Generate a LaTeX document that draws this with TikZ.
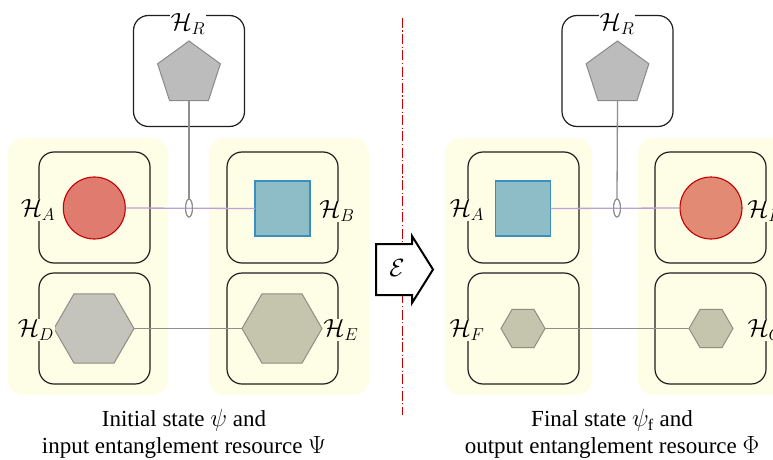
\documentclass[tikz,border=0pt]{standalone}
\usepackage{fontspec}
\setmainfont{Liberation Serif}
\usetikzlibrary{shapes.geometric}
\definecolor{bgy}{HTML}{FEFEE6}
\definecolor{circfillL}{HTML}{E07B70}
\definecolor{circfillR}{HTML}{E28A73}
\definecolor{circdraw}{HTML}{C00000}
\definecolor{sqfill}{HTML}{8EBDC8}
\definecolor{sqdraw}{HTML}{3A8FC0}
\definecolor{pentfill}{HTML}{BCBCBC}
\definecolor{pentdraw}{HTML}{8A8A8A}
\definecolor{hexgrey}{HTML}{C4C4BC}
\definecolor{hexolive}{HTML}{C5C5AE}
\definecolor{hexdraw}{HTML}{8E8E84}
\definecolor{gline}{HTML}{8F8F8F}
\definecolor{pline}{HTML}{B9A2D8}
\definecolor{sepred}{HTML}{C00000}
\tikzset{
  bgbox/.style={fill=bgy, rounded corners=16pt},
  hbox/.style={draw=black!88, line width=1.2pt, rounded corners=15pt, minimum width=111pt, minimum height=111pt, inner sep=0pt, outer sep=0pt},
  hlab/.style={fill=bgy, inner sep=0.5pt, font=\fontsize{23}{23}\selectfont},
  circL/.style={circle, fill=circfillL, draw=circdraw, line width=1.1pt, minimum size=62pt, inner sep=0pt, outer sep=0pt},
  circR/.style={circL, fill=circfillR},
  sqnode/.style={rectangle, fill=sqfill, draw=sqdraw, line width=1.1pt, minimum size=55pt, inner sep=0pt, outer sep=0pt},
  pent/.style={regular polygon, regular polygon sides=5, fill=pentfill, draw=pentdraw, line width=1pt, minimum size=66pt, inner sep=0pt, outer sep=0pt},
  hexbig/.style={regular polygon, regular polygon sides=6, draw=hexdraw, line width=1pt, minimum size=80pt, inner sep=0pt, outer sep=0pt},
  hexsmall/.style={regular polygon, regular polygon sides=6, fill=hexolive, draw=hexdraw, line width=1pt, minimum size=44pt, inner sep=0pt, outer sep=0pt},
  ring/.style={ellipse, draw=gline, line width=1pt, minimum width=7pt, minimum height=18pt, inner sep=0pt, outer sep=0pt},
  gconn/.style={draw=gline, line width=1.3pt},
  pconn/.style={draw=pline, line width=1.3pt},
  captext/.style={align=center, font=\fontsize{23}{27}\selectfont, inner sep=0pt}
}
\begin{document}
\begin{tikzpicture}[x=1pt,y=-1pt]
\useasboundingbox (0,0) rectangle (773,460);
\clip (0,0) rectangle (773,460);
\fill[white] (0,0) rectangle (773,460);
% background panels
\fill[bgbox] (8,138) rectangle (168,395);
\fill[bgbox] (209,138) rectangle (369,395);
\fill[bgbox] (445,138) rectangle (592,395);
\fill[bgbox] (638,138) rectangle (800,395);
% separator
\draw[sepred, line width=1pt, dash pattern=on 10pt off 2.5pt on 1.2pt off 2.5pt] (402,18) -- (402,415);
% ---------- left: initial state ----------
\node[hbox] (bR) at (189,71) {};
\node[hbox] (bA) at (94.5,207.5) {};
\node[hbox] (bB) at (282.5,207.5) {};
\node[hbox] (bD) at (94.5,328.5) {};
\node[hbox] (bE) at (282.5,328.5) {};
\node[pent] (pR) at (189,74) {};
\node[circL] (cA) at (94.3,208) {};
\node[sqnode] (sB) at (282.5,208.5) {};
\node[hexbig, fill=hexgrey] (hD) at (94,328.5) {};
\node[hexbig, fill=hexolive] (hE) at (282,328.5) {};
\node[ring] (eL) at (189,208) {};
\draw[pconn] (cA.east) -- (sB.west);
\draw[gconn] (pR.south) -- (eL.north);
\node[ring] at (eL) {};
\draw[gconn] (hD.east) -- (hE.west);
\node[hlab, fill=white] (lR) at (188,24) {$\mathcal{H}_R$};
\node[hlab] (lA) at (38,210) {$\mathcal{H}_A$};
\node[hlab] (lB) at (337,211) {$\mathcal{H}_B$};
\node[hlab] (lD) at (36,330) {$\mathcal{H}_D$};
\node[hlab] (lE) at (341,330) {$\mathcal{H}_E$};
\node[captext] (capL) at (184,434) {Initial state $\psi$ and\\input entanglement resource $\Psi$};
% ---------- channel arrow ----------
\draw[line width=2pt, fill=white, line join=miter] (376,244) -- (412,244) -- (412,236) -- (433,269.5) -- (412,303) -- (412,295) -- (376,295) -- cycle;
\node[inner sep=0pt, font=\fontsize{36}{36}\selectfont] (eps) at (397,268) {$\mathcal{E}$};
% ---------- right: final state ----------
\node[hbox] (bR2) at (617.5,71) {};
\node[hbox] (bA2) at (523.5,207.5) {};
\node[hbox] (bB2) at (710.5,207.5) {};
\node[hbox] (bF) at (523.5,328.5) {};
\node[hbox] (bG) at (710.5,328.5) {};
\node[pent] (pR2) at (617.5,74) {};
\node[sqnode] (sA2) at (523,208.5) {};
\node[circR] (cB2) at (711,208) {};
\node[hexsmall] (hF) at (523,328.5) {};
\node[hexsmall] (hG) at (711,328.5) {};
\node[ring] (eR) at (617,208) {};
\draw[pconn] (sA2.east) -- (cB2.west);
\draw[gconn] (pR2.south) -- (eR.north);
\node[ring] at (eR) {};
\draw[gconn] (hF.east) -- (hG.west);
\node[hlab, fill=white] (lR2) at (617,24) {$\mathcal{H}_R$};
\node[hlab] (lA2) at (467,210) {$\mathcal{H}_A$};
\node[hlab] (lB2) at (765,211) {$\mathcal{H}_B$};
\node[hlab] (lF) at (467,330) {$\mathcal{H}_F$};
\node[hlab] (lG) at (765,330) {$\mathcal{H}_G$};
\node[captext] (capR) at (612,434) {Final state $\psi_{\mathrm{f}}$ and\\output entanglement resource $\Phi$};
\end{tikzpicture}
\end{document}
